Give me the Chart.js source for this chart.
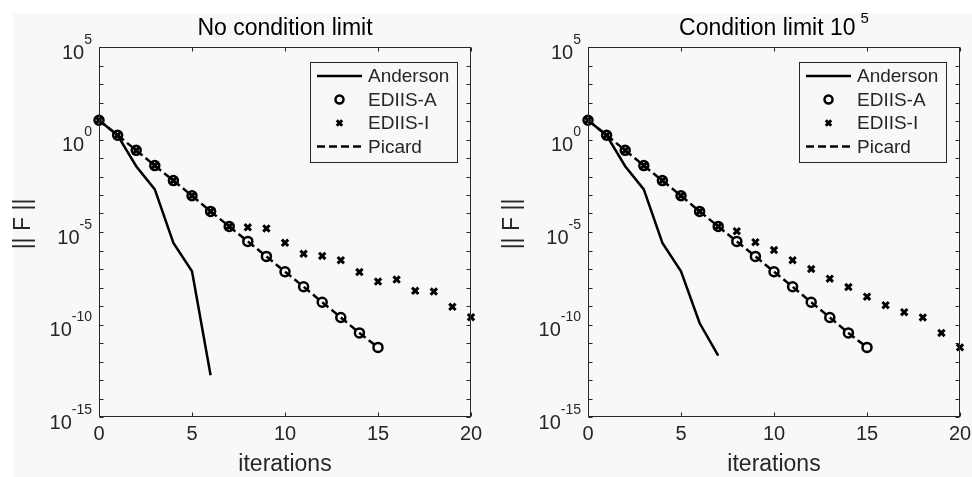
<!DOCTYPE html>
<html>
<head>
<meta charset="utf-8">
<script src="https://cdn.jsdelivr.net/npm/chart.js@4.4.0/dist/chart.umd.min.js"></script>
<style>
  html, body { margin: 0; padding: 0; background: #ffffff; }
  #fig { position: absolute; left: 13px; top: 13px; width: 959px; height: 464px; background: #f8f8f8; }
  canvas { position: absolute; top: 0; }
  #left { left: 0; }
  #right { left: 486px; }
</style>
</head>
<body>
<div id="fig"></div>
<canvas id="left" width="486" height="477"></canvas>
<canvas id="right" width="486" height="477"></canvas>
<script>
// values (||F|| per iteration, iteration = array index)
const seriesNames = ["Anderson", "EDIIS-A", "EDIIS-I", "Picard"];
const xTicks = [0, 5, 10, 15, 20];
const yLabelExponents = [5, 0, -5, -10, -15];
const yMinorExponents = [5, 4, 3, 2, 1, 0, -1, -2, -3, -4, -5, -6, -7, -8, -9, -10, -11, -12, -13, -14, -15];

// left panel: no condition limit
const andersonLeft = [11, 1.7, 0.036, 2.0e-3, 2.6e-6, 7.6e-8, 1.8e-13];
const ediisALeft = [11, 1.7, 0.26, 0.039, 6.0e-3, 9.1e-4, 1.3e-4, 2.0e-5, 3.1e-6, 4.8e-7,
  7.1e-8, 1.1e-8, 1.6e-9, 2.4e-10, 3.5e-11, 5.8e-12];
const ediisILeft = [11, 1.7, 0.26, 0.039, 6.0e-3, 9.1e-4, 1.3e-4, 2.0e-5, 1.8e-5, 1.55e-5,
  2.6e-6, 6.6e-7, 5.1e-7, 3.0e-7, 6.8e-8, 2.1e-8, 2.7e-8, 6.6e-9, 6.0e-9, 9.1e-10, 2.5e-10];
const picardLeft = [11, 1.7, 0.26, 0.039, 6.0e-3, 9.1e-4, 1.3e-4, 2.0e-5, 3.1e-6, 4.8e-7,
  7.1e-8, 1.1e-8, 1.6e-9, 2.4e-10, 3.5e-11, 5.8e-12];

// right panel: condition limit 10^5
const andersonRight = [11, 1.7, 0.036, 2.0e-3, 2.6e-6, 7.6e-8, 1.2e-10, 2.1e-12];
const ediisARight = [11, 1.7, 0.26, 0.039, 6.0e-3, 9.1e-4, 1.3e-4, 2.0e-5, 3.1e-6, 4.8e-7,
  7.1e-8, 1.1e-8, 1.6e-9, 2.4e-10, 3.5e-11, 5.8e-12];
const ediisIRight = [11, 1.7, 0.26, 0.039, 6.0e-3, 9.1e-4, 1.3e-4, 2.0e-5, 1.1e-5, 2.8e-6,
  1.05e-6, 3.0e-7, 1.0e-7, 3.0e-8, 1.05e-8, 3.2e-9, 1.1e-9, 4.6e-10, 2.4e-10, 3.5e-11, 5.8e-12];
const picardRight = [11, 1.7, 0.26, 0.039, 6.0e-3, 9.1e-4, 1.3e-4, 2.0e-5, 3.1e-6, 4.8e-7,
  7.1e-8, 1.1e-8, 1.6e-9, 2.4e-10, 3.5e-11, 5.8e-12];

const FONT = "'Liberation Sans', Arial, sans-serif";
const INK = "#262626";

const toPoints = (arr) => arr.map((v, i) => ({ x: i, y: v }));

// MATLAB-like box, inward ticks, labels, title and legend
const matlabAxes = {
  id: "matlabAxes",
  afterDatasetsDraw(chart, args, opts) {
    const { ctx, chartArea: a, scales: { x, y } } = chart;
    const L = Math.round(a.left) + 0.5, R = Math.round(a.right) - 0.5;
    const T = Math.round(a.top) + 0.5, B = Math.round(a.bottom) - 0.5;
    ctx.save();
    ctx.strokeStyle = INK;
    ctx.lineWidth = 1;
    ctx.setLineDash([]);
    ctx.strokeRect(L, T, R - L, B - T);

    // ticks
    ctx.beginPath();
    xTicks.forEach(t => {
      const px = Math.round(x.getPixelForValue(t)) + 0.5;
      ctx.moveTo(px, B); ctx.lineTo(px, B - 4);
      ctx.moveTo(px, T); ctx.lineTo(px, T + 4);
    });
    yMinorExponents.forEach(e => {
      const py = Math.round(y.getPixelForValue(Math.pow(10, e))) + 0.5;
      ctx.moveTo(L, py); ctx.lineTo(L + 4, py);
      ctx.moveTo(R, py); ctx.lineTo(R - 4, py);
    });
    ctx.stroke();

    // x tick labels
    ctx.fillStyle = INK;
    ctx.font = "20px " + FONT;
    ctx.textAlign = "center";
    ctx.textBaseline = "middle";
    xTicks.forEach(t => ctx.fillText(String(t), x.getPixelForValue(t), B + 18));

    // y tick labels 10^e
    yLabelExponents.forEach(e => {
      const py = y.getPixelForValue(Math.pow(10, e));
      ctx.font = "14px " + FONT;
      ctx.textAlign = "right";
      const ew = ctx.measureText(String(e)).width;
      ctx.fillText(String(e), a.left - 7, py - 7);
      ctx.font = "20px " + FONT;
      ctx.fillText("10", a.left - 7 - ew, py + 6);
    });

    // axis labels
    ctx.font = "23px " + FONT;
    ctx.textAlign = "center";
    ctx.fillText("iterations", (a.left + a.right) / 2, 465);
    ctx.save();
    ctx.translate(a.left - 75, 224);
    ctx.rotate(-Math.PI / 2);
    ctx.fillText("|| F ||", 0, 0);
    ctx.restore();

    // title
    ctx.fillStyle = "#000";
    ctx.font = "23px " + FONT;
    const cx = (a.left + a.right) / 2;
    if (opts.sup) {
      ctx.textAlign = "left";
      const w1 = ctx.measureText(opts.title).width;
      ctx.font = "15px " + FONT;
      const w2 = ctx.measureText(opts.sup).width;
      const start = cx - (w1 + 5 + w2) / 2;
      ctx.fillText(opts.sup, start + w1 + 5, 19);
      ctx.font = "23px " + FONT;
      ctx.fillText(opts.title, start, 29);
    } else {
      ctx.textAlign = "center";
      ctx.fillText(opts.title, cx, 29);
    }

    // legend
    const lx = a.left + 211, ly = a.top + 15, lw = 147, lh = 100;
    ctx.fillStyle = "#f8f8f8";
    ctx.fillRect(lx, ly, lw, lh);
    ctx.strokeStyle = INK;
    ctx.lineWidth = 1;
    ctx.strokeRect(Math.round(lx) + 0.5, Math.round(ly) + 0.5, lw, lh);
    chart.data.datasets.forEach((ds, i) => {
      const yy = ly + 14 + i * 23.5;
      const x0 = lx + 7, x1 = lx + 52, xm = (x0 + x1) / 2;
      ctx.strokeStyle = "#000";
      ctx.fillStyle = "#000";
      if (ds.showLine !== false) {
        ctx.lineWidth = ds.borderWidth;
        ctx.setLineDash(ds.borderDash || []);
        ctx.beginPath(); ctx.moveTo(x0, yy); ctx.lineTo(x1, yy); ctx.stroke();
        ctx.setLineDash([]);
      } else if (ds.pointStyle === "circle") {
        ctx.lineWidth = ds.pointBorderWidth;
        ctx.beginPath(); ctx.arc(xm, yy, ds.pointRadius - 0.5, 0, Math.PI * 2); ctx.stroke();
      } else {
        const r = ds.pointRadius * 0.6;
        ctx.lineWidth = ds.pointBorderWidth;
        ctx.beginPath();
        ctx.moveTo(xm - r, yy - r); ctx.lineTo(xm + r, yy + r);
        ctx.moveTo(xm + r, yy - r); ctx.lineTo(xm - r, yy + r);
        ctx.stroke();
      }
      ctx.fillStyle = INK;
      ctx.font = "19px " + FONT;
      ctx.textAlign = "left";
      ctx.fillText(ds.label, lx + 58, yy + 1);
    });
    ctx.restore();
  }
};

function makeChart(canvasId, anderson, ediisA, ediisI, picard, title, sup, padding) {
  const ctx = document.getElementById(canvasId).getContext("2d");
  return new Chart(ctx, {
    type: "line",
    data: {
      datasets: [
        {
          label: seriesNames[0],
          data: toPoints(anderson),
          borderColor: "#000",
          borderWidth: 2.5,
          pointRadius: 0,
          tension: 0,
          clip: false
        },
        {
          label: seriesNames[1],
          data: toPoints(ediisA),
          showLine: false,
          pointStyle: "circle",
          pointRadius: 4.5,
          pointBorderWidth: 2.5,
          pointBorderColor: "#000",
          pointBackgroundColor: "rgba(0,0,0,0)",
          borderColor: "#000",
          clip: false
        },
        {
          label: seriesNames[2],
          data: toPoints(ediisI),
          showLine: false,
          pointStyle: "crossRot",
          pointRadius: 4.5,
          pointBorderWidth: 3,
          pointBorderColor: "#000",
          borderColor: "#000",
          clip: false
        },
        {
          label: seriesNames[3],
          data: toPoints(picard),
          borderColor: "#000",
          borderWidth: 2.5,
          borderDash: [8, 4],
          pointRadius: 0,
          tension: 0,
          clip: false
        }
      ]
    },
    options: {
      responsive: false,
      animation: false,
      devicePixelRatio: 1,
      layout: { padding: padding },
      plugins: {
        legend: { display: false },
        tooltip: { enabled: false },
        matlabAxes: { title: title, sup: sup }
      },
      scales: {
        x: { type: "linear", min: 0, max: 20, display: false },
        y: { type: "logarithmic", min: 1e-15, max: 1e5, display: false }
      }
    },
    plugins: [matlabAxes]
  });
}

makeChart("left", andersonLeft, ediisALeft, ediisILeft, picardLeft,
  "No condition limit", null, { left: 99, right: 15, top: 47, bottom: 60 });
makeChart("right", andersonRight, ediisARight, ediisIRight, picardRight,
  "Condition limit 10", "5", { left: 102, right: 12, top: 47, bottom: 60 });
</script>
</body>
</html>
